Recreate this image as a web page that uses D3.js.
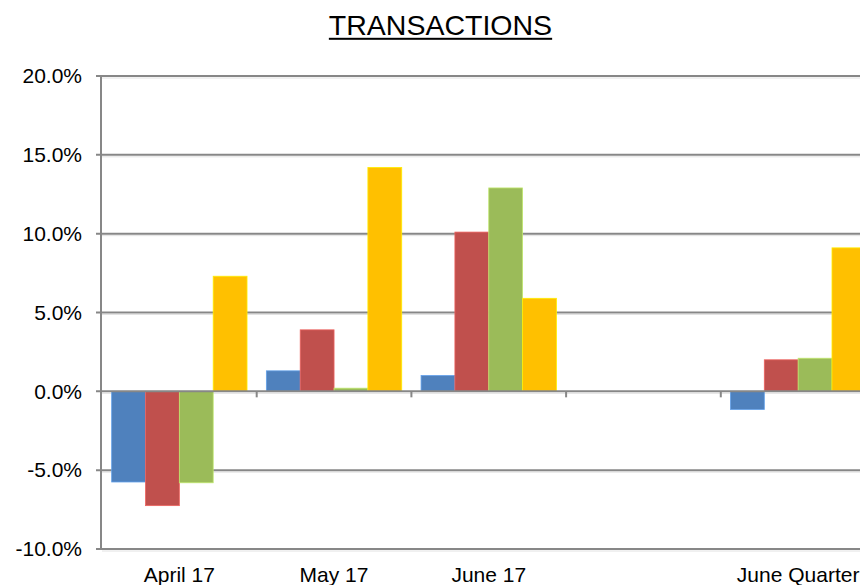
<!DOCTYPE html>
<html>
<head>
<meta charset="utf-8">
<script src="https://cdn.jsdelivr.net/npm/d3@7"></script>
<style>
  body { margin: 0; background: #fff; }
  svg { font-family: "Liberation Sans", Arial, Helvetica, sans-serif; }
</style>
</head>
<body>
<script>
// chart values
var categories = ["April 17", "May 17", "June 17", "", "June Quarter"];
var seriesNames = ["s1", "s2", "s3", "s4"];
var series1 = [-5.75, 1.3, 1.0, null, -1.15];
var series2 = [-7.25, 3.9, 10.1, null, 2.0];
var series3 = [-5.8, 0.2, 12.9, null, 2.1];
var series4 = [7.3, 14.2, 5.9, null, 9.1];
var yTicks = [-10, -5, 0, 5, 10, 15, 20];
var colors = ["#4F81BD", "#C0504D", "#9BBB59", "#FFC000"];

var allSeries = [series1, series2, series3, series4];

var width = 860, height = 585;
var plotLeft = 102, plotTop = 76, plotBottom = 549;
var step = 154.7;

var svg = d3.select("body").append("svg")
    .attr("width", width)
    .attr("height", height);

var x = d3.scaleBand()
    .domain(d3.range(categories.length))
    .range([plotLeft, plotLeft + step * categories.length])
    .padding(0);

var x1 = d3.scaleBand()
    .domain(seriesNames)
    .range([x.bandwidth() * 0.0625, x.bandwidth() * 0.9375])
    .padding(0);

var y = d3.scaleLinear()
    .domain([-10, 20])
    .range([plotBottom, plotTop]);

// title with underline
var title = svg.append("text")
    .attr("x", 440.5)
    .attr("y", 34.5)
    .attr("text-anchor", "middle")
    .attr("font-size", "28.5px")
    .attr("fill", "#000")
    .text("TRANSACTIONS");
var tw = title.node().getComputedTextLength();
svg.append("rect")
    .attr("x", 440.5 - tw / 2)
    .attr("y", 37.8)
    .attr("width", tw)
    .attr("height", 2)
    .attr("fill", "#000");

// gridlines (behind bars)
var grid = svg.append("g");
grid.selectAll("line.shadow")
    .data(yTicks)
    .enter().append("line")
    .attr("class", "shadow")
    .attr("x1", plotLeft).attr("x2", width)
    .attr("y1", function(d) { return y(d) + 2; })
    .attr("y2", function(d) { return y(d) + 2; })
    .attr("stroke", "#e2e2e2")
    .attr("stroke-width", 1);
grid.selectAll("line.main")
    .data(yTicks.filter(function(d) { return d !== 0; }))
    .enter().append("line")
    .attr("class", "main")
    .attr("x1", 96).attr("x2", width)
    .attr("y1", function(d) { return y(d); })
    .attr("y2", function(d) { return y(d); })
    .attr("stroke", "#878787")
    .attr("stroke-width", 2);

// y labels
var yAxis = d3.axisLeft(y)
    .tickValues(yTicks)
    .tickFormat(function(d) { return d.toFixed(1) + "%"; })
    .tickSize(0)
    .tickPadding(20);
var yg = svg.append("g")
    .attr("transform", "translate(" + plotLeft + ",0)")
    .call(yAxis);
yg.select(".domain").remove();
yg.selectAll("text")
    .attr("font-size", "21px")
    .attr("fill", "#000")
    .attr("font-family", "\"Liberation Sans\", Arial, sans-serif");

// bars
var groups = svg.append("g").selectAll("g")
    .data(allSeries)
    .enter().append("g")
    .attr("fill", function(d, i) { return colors[i]; })
    .attr("stroke", function(d, i) { return d3.color(colors[i]).brighter(0.6); });

groups.each(function(vals, si) {
  d3.select(this).selectAll("rect")
    .data(vals.map(function(v, ci) { return { v: v, ci: ci }; }).filter(function(d) { return d.v !== null; }))
    .enter().append("rect")
    .attr("x", function(d) { return x(d.ci) + x1(seriesNames[si]); })
    .attr("width", x1.bandwidth())
    .attr("y", function(d) { return y(Math.max(0, d.v)); })
    .attr("height", function(d) { return Math.abs(y(d.v) - y(0)); })
    .attr("stroke-width", 0.8);
});

// zero axis line and category ticks (on top of bars)
svg.append("line")
    .attr("x1", 96).attr("x2", width)
    .attr("y1", y(0)).attr("y2", y(0))
    .attr("stroke", "#878787")
    .attr("stroke-width", 2);
svg.append("g").selectAll("line")
    .data(d3.range(1, categories.length))
    .enter().append("line")
    .attr("x1", function(d) { return x(d); })
    .attr("x2", function(d) { return x(d); })
    .attr("y1", y(0))
    .attr("y2", y(0) + 6)
    .attr("stroke", "#878787")
    .attr("stroke-width", 2);

// vertical axis line
svg.append("line")
    .attr("x1", 101).attr("x2", 101)
    .attr("y1", plotTop - 1).attr("y2", plotBottom + 1)
    .attr("stroke", "#878787")
    .attr("stroke-width", 2);

// category labels at the bottom
var xAxis = d3.axisBottom(x)
    .tickFormat(function(i) { return categories[i]; })
    .tickSize(0)
    .tickPadding(18);
var xg = svg.append("g")
    .attr("transform", "translate(0," + plotBottom + ")")
    .call(xAxis);
xg.select(".domain").remove();
xg.selectAll("text")
    .attr("font-size", "21px")
    .attr("fill", "#000")
    .attr("font-family", "\"Liberation Sans\", Arial, sans-serif");
</script>
</body>
</html>
